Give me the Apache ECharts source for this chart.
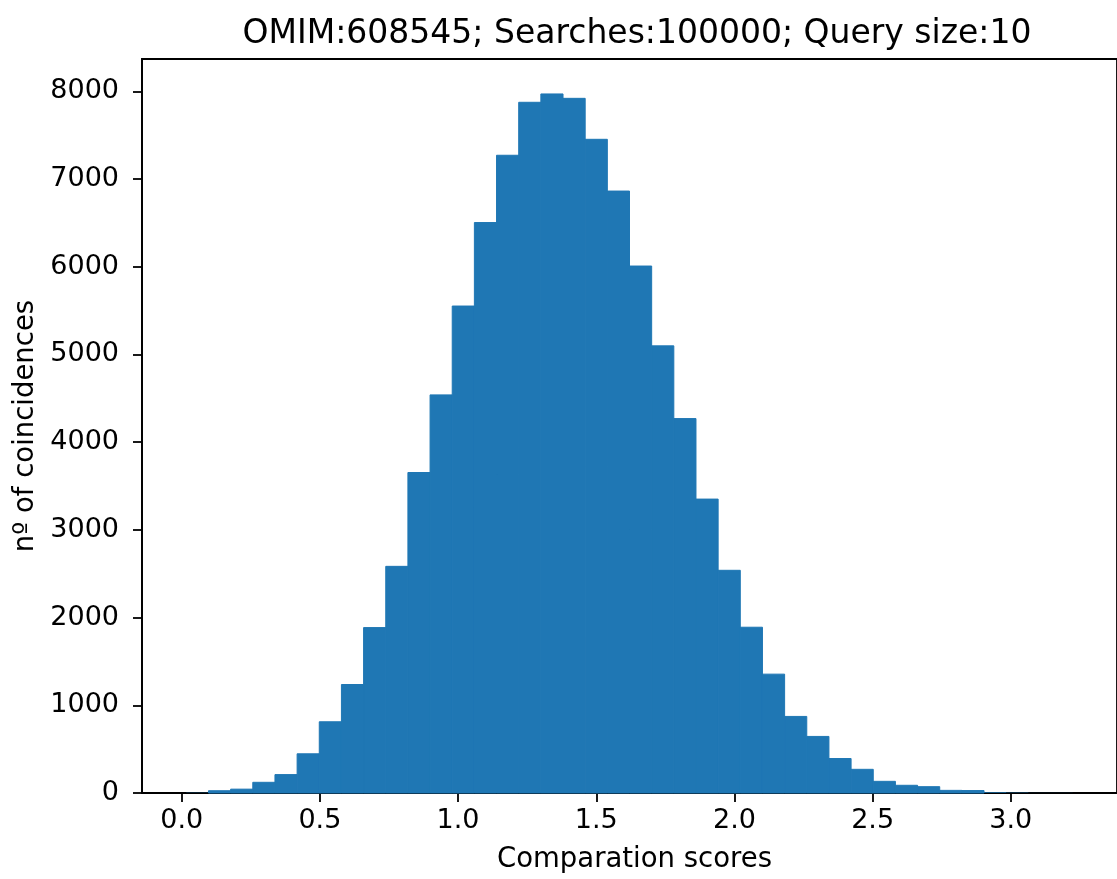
<!DOCTYPE html>
<html>
<head>
<meta charset="utf-8">
<script src="https://cdn.jsdelivr.net/npm/echarts@6/dist/echarts.min.js"></script>
<style>
  html, body { margin: 0; padding: 0; background: #fff; }
  #chart { width: 1117px; height: 879px; }
</style>
</head>
<body>
<div id="chart"></div>
<script>
// Histogram of comparison scores: 40 equal-width bins between the lowest and highest score
const titleText = 'OMIM:608545; Searches:100000; Query size:10';
const xAxisName = 'Comparation scores';
const yAxisName = 'nº of coincidences';

const scoreMin = 0.0166;
const scoreMax = 3.224;
const binCount = 40;
const counts = [
  3, 26, 44, 122, 210, 447, 812, 1237, 1886, 2584,
  3654, 4539, 5552, 6504, 7271, 7875, 7970, 7920, 7453, 6863,
  6008, 5098, 4269, 3351, 2539, 1890, 1355, 873, 645, 393,
  270, 133, 88, 72, 30, 28, 8, 4, 1, 1
];

const xTicks = [0.0, 0.5, 1.0, 1.5, 2.0, 2.5, 3.0];
const yTicks = [0, 1000, 2000, 3000, 4000, 5000, 6000, 7000, 8000];

// axis limits padded by 5% like the plotting default
const span = scoreMax - scoreMin;
const xMin = scoreMin - 0.05 * span;
const xMax = scoreMax + 0.05 * span;
const yMax = Math.max(...counts) * 1.05;

const binWidth = span / binCount;
const bins = counts.map((c, i) => [scoreMin + i * binWidth, scoreMin + (i + 1) * binWidth, c]);

const font = 'DejaVu Sans';
const ink = '#000';
const barColor = '#1f77b4';

const chart = echarts.init(document.getElementById('chart'), null, { renderer: 'canvas' });
chart.setOption({
  backgroundColor: '#fff',
  animation: false,
  title: {
    text: titleText,
    left: 632,
    top: 13,
    textAlign: 'center',
    textStyle: { fontFamily: font, fontSize: 33, fontWeight: 'normal', color: ink }
  },
  grid: {
    left: 142, top: 59, width: 982, height: 735,
    show: true, borderColor: ink, borderWidth: 1.8, backgroundColor: 'transparent'
  },
  xAxis: {
    type: 'value', min: xMin, max: xMax,
    name: xAxisName, nameLocation: 'middle', nameGap: 53,
    nameTextStyle: { fontFamily: font, fontSize: 27.5, color: ink, padding: [0, 0, 0, 10] },
    axisLine: { show: true, onZero: false, lineStyle: { color: ink, width: 1.8 } },
    axisTick: { show: true, length: 9, lineStyle: { color: ink, width: 1.8 }, customValues: xTicks },
    axisLabel: {
      margin: 14, fontFamily: font, fontSize: 27, color: ink,
      customValues: xTicks, formatter: v => v.toFixed(1)
    },
    splitLine: { show: false }
  },
  yAxis: {
    type: 'value', min: 0, max: yMax,
    name: yAxisName, nameLocation: 'middle', nameGap: 98,
    nameTextStyle: { fontFamily: font, fontSize: 27.5, color: ink },
    axisLine: { show: true, onZero: false, lineStyle: { color: ink, width: 1.8 } },
    axisTick: { show: true, length: 9, lineStyle: { color: ink, width: 1.8 }, customValues: yTicks },
    axisLabel: {
      margin: 23, fontFamily: font, fontSize: 27, color: ink,
      customValues: yTicks, formatter: v => String(v)
    },
    splitLine: { show: false }
  },
  series: [{
    type: 'custom',
    data: bins,
    renderItem: function (params, api) {
      const top = api.coord([api.value(0), api.value(2)]);
      const bottom = api.coord([api.value(1), 0]);
      const h = bottom[1] - top[1];
      return {
        type: 'rect',
        shape: { x: top[0], y: top[1], width: bottom[0] - top[0], height: h },
        // a thin outline in the fill colour closes the hairline gaps between neighbouring bins
        style: { fill: barColor, stroke: barColor, lineWidth: h > 1 ? 1 : 0 }
      };
    }
  }]
});
</script>
</body>
</html>
